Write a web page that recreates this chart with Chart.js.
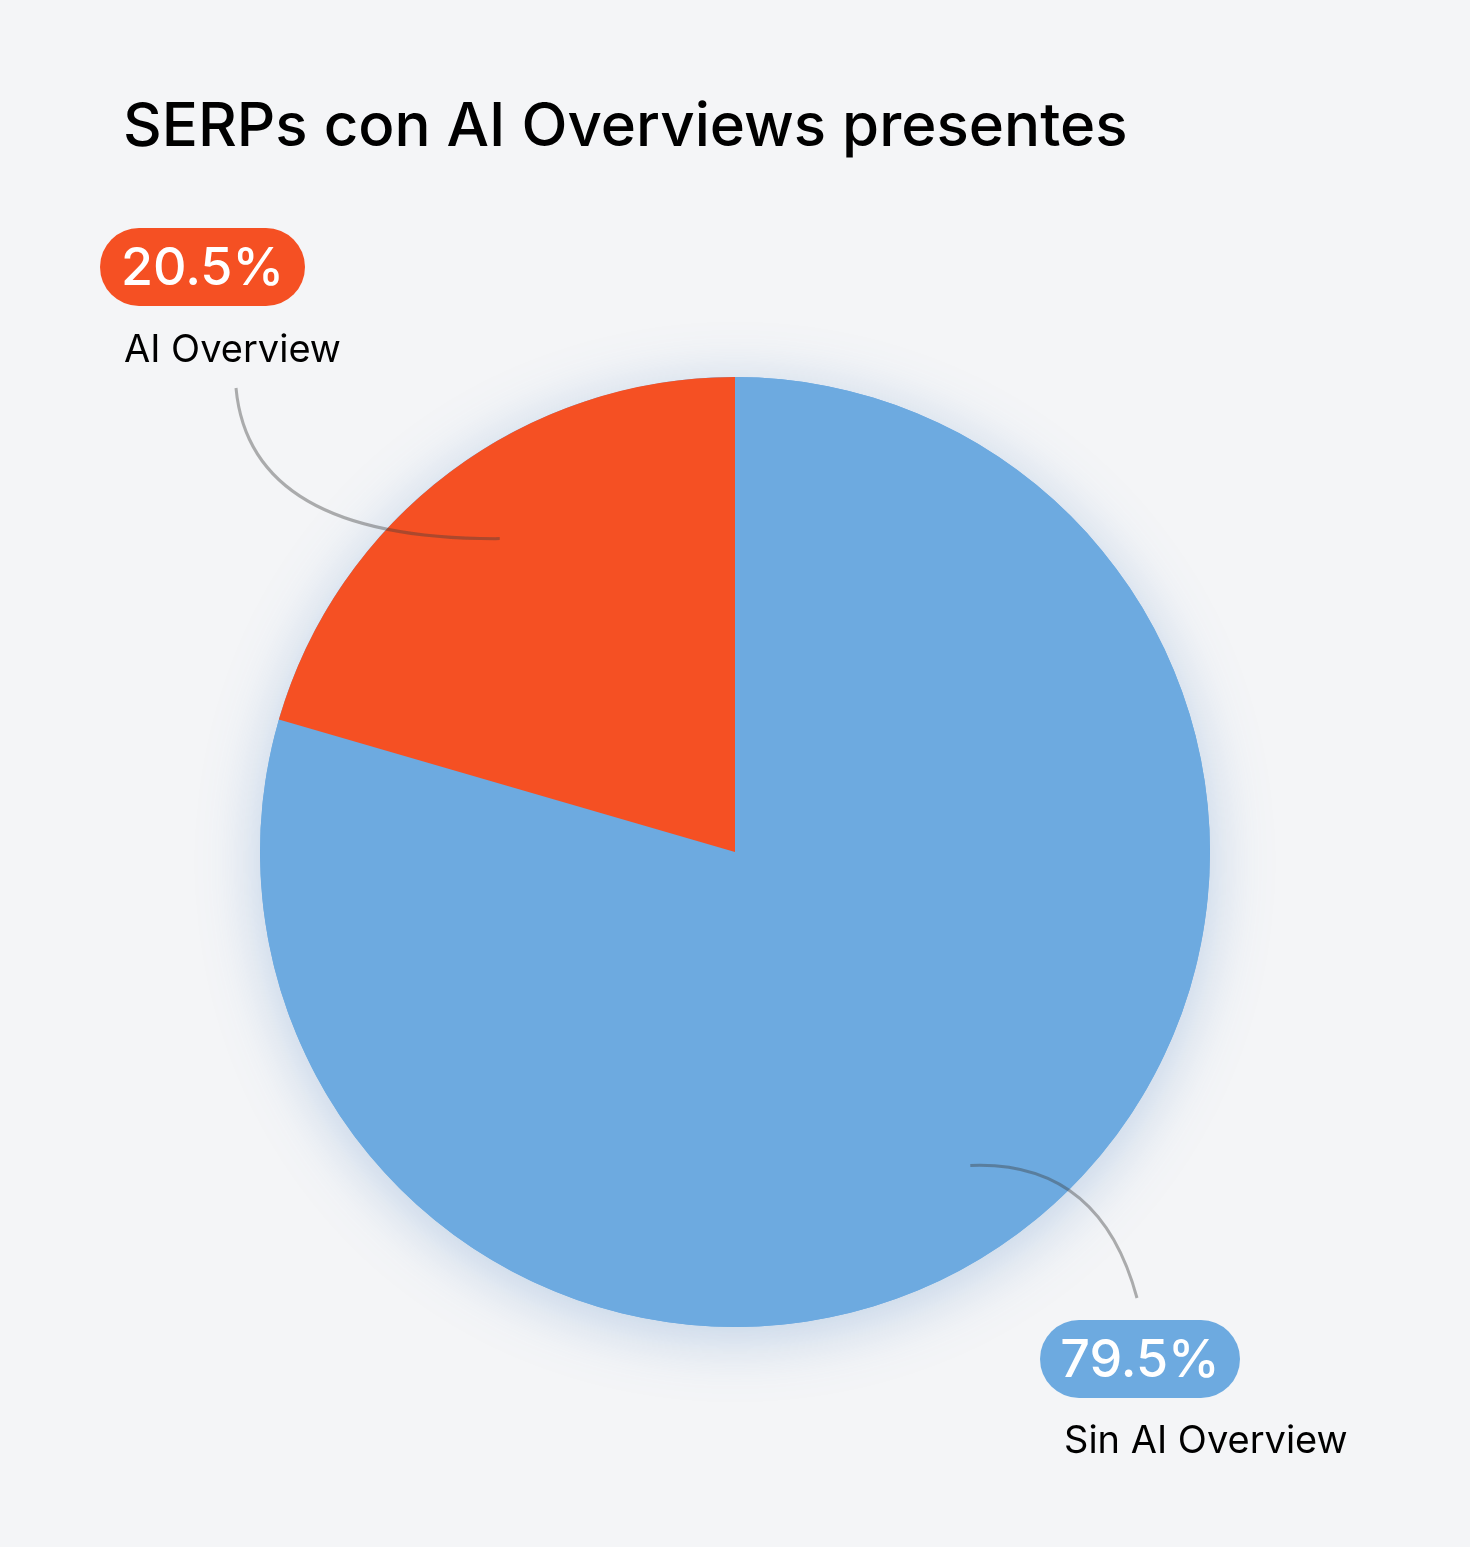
<!DOCTYPE html>
<html><head><meta charset="utf-8">
<script src="https://cdn.jsdelivr.net/npm/chart.js@4/dist/chart.umd.min.js"></script>
<style>html,body{margin:0;padding:0;background:#f4f5f7}#w{width:1470px;height:1547px}</style>
</head><body><div id="w"><canvas id="c"></canvas></div>
<script>
const title = "SERPs con AI Overviews presentes";
const categories = ["Sin AI Overview", "AI Overview"];
const values = [79.5, 20.5];
const valueLabels = ["79.5%", "20.5%"];
const colors = ["#6daae0", "#f55023"];

const FONT = "Inter, 'DejaVu Sans', sans-serif";

function pill(ctx, x, y, w, h, color) {
  const r = h / 2;
  ctx.beginPath();
  ctx.moveTo(x + r, y); ctx.lineTo(x + w - r, y);
  ctx.arc(x + w - r, y + r, r, -Math.PI/2, Math.PI/2);
  ctx.lineTo(x + r, y + h);
  ctx.arc(x + r, y + r, r, Math.PI/2, Math.PI*1.5);
  ctx.closePath(); ctx.fillStyle = color; ctx.fill();
}

const shadowPlugin = {
  id: 'glow',
  beforeDatasetsDraw(chart) {
    const ctx = chart.ctx;
    const arc = chart.getDatasetMeta(0).data[0];
    ctx.save();
    ctx.shadowColor = 'rgba(90,140,200,0.35)';
    ctx.shadowBlur = 60; ctx.shadowOffsetY = 10;
    ctx.beginPath(); ctx.arc(arc.x, arc.y, arc.outerRadius, 0, Math.PI*2);
    ctx.fillStyle = '#6daae0'; ctx.fill();
    ctx.restore();
  }
};

const annot = {
  id: 'annot',
  afterDraw(chart) {
    const ctx = chart.ctx;
    ctx.save();
    ctx.fillStyle = '#000';
    ctx.font = "500 60px " + FONT;
    ctx.textBaseline = 'alphabetic';
    ctx.fillText(title, 123, 146);

    const meta = chart.getDatasetMeta(0);
    // label layout: [pill x, pill y, pill w, name x, name y, line end x, line end y]
    const lay = [
      {px:1040, py:1320, pw:200, nx:1064, ny:1453, ex:1137, ey:1298, c1:[1100,1160]},
      {px:100, py:228, pw:205, nx:124, ny:362, ex:236, ey:388, c1:[250,540]}
    ];
    meta.data.forEach((a, i) => {
      const mid = (a.startAngle + a.endAngle) / 2;
      const r = a.outerRadius * 0.825;
      const sx = a.x + Math.cos(mid) * r, sy = a.y + Math.sin(mid) * r;
      const L = lay[i];
      ctx.beginPath(); ctx.moveTo(sx, sy);
      ctx.quadraticCurveTo(L.c1[0], L.c1[1], L.ex, L.ey);
      ctx.strokeStyle = 'rgba(60,60,60,0.4)'; ctx.lineWidth = 3; ctx.stroke();
      pill(ctx, L.px, L.py, L.pw, 78, colors[i]);
      ctx.fillStyle = '#fff'; ctx.font = "500 52px " + FONT;
      ctx.textAlign = 'center'; ctx.textBaseline = 'middle';
      ctx.fillText(valueLabels[i], L.px + L.pw/2, L.py + 41);
      ctx.fillStyle = '#000'; ctx.font = "400 38px " + FONT;
      ctx.textAlign = 'left'; ctx.textBaseline = 'alphabetic';
      ctx.fillText(categories[i], L.nx, L.ny);
    });
    ctx.restore();
  }
};

new Chart(document.getElementById('c'), {
  type: 'pie',
  data: { labels: categories, datasets: [{ data: values, backgroundColor: colors, borderWidth: 0 }] },
  options: {
    responsive: true, maintainAspectRatio: false, animation: false,
    layout: { padding: { top: 377, bottom: 220, left: 260, right: 260 } },
    plugins: { legend: { display: false }, tooltip: { enabled: false } }
  },
  plugins: [shadowPlugin, annot]
});
</script></body></html>
